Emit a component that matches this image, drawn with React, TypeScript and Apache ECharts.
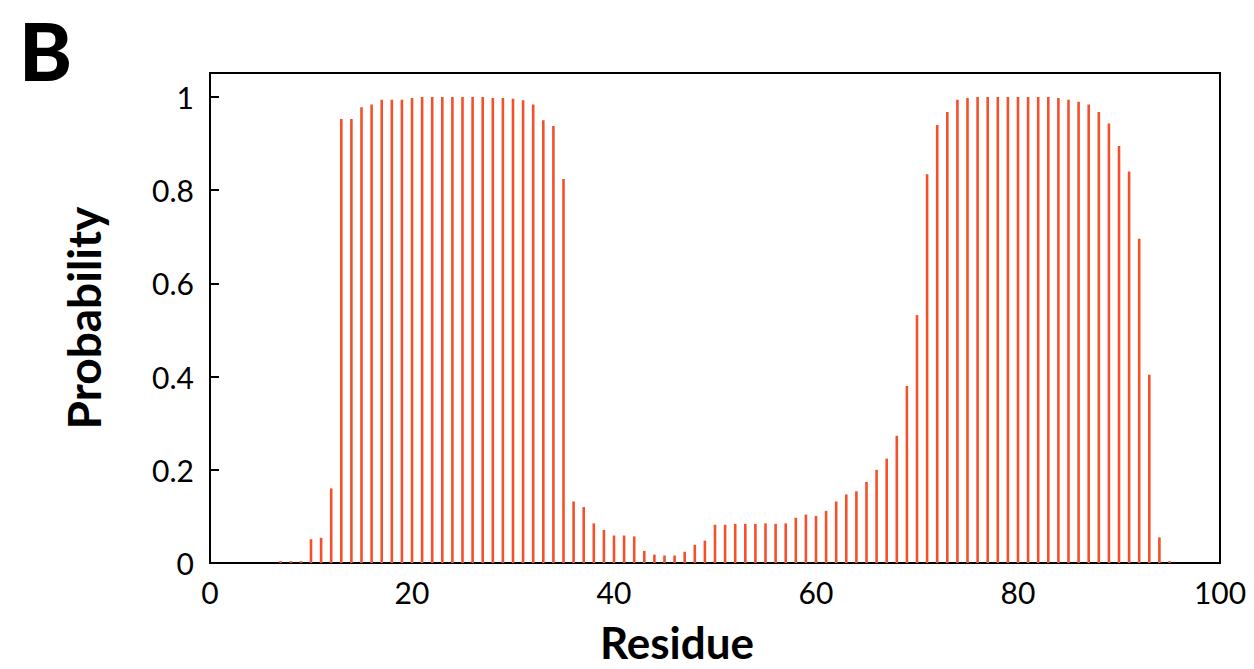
import React, { useEffect, useRef } from "react";
import * as echarts from "echarts";

const residues: number[] = [
  7, 8, 9, 10, 11, 12, 13, 14, 15, 16, 17, 18, 19, 20, 21, 22, 23, 24, 25, 26,
  27, 28, 29, 30, 31, 32, 33, 34, 35, 36, 37, 38, 39, 40, 41, 42, 43, 44, 45, 46,
  47, 48, 49, 50, 51, 52, 53, 54, 55, 56, 57, 58, 59, 60, 61, 62, 63, 64, 65, 66,
  67, 68, 69, 70, 71, 72, 73, 74, 75, 76, 77, 78, 79, 80, 81, 82, 83, 84, 85, 86,
  87, 88, 89, 90, 91, 92, 93, 94, 95,
];

const probability: number[] = [
  0.004, 0.004, 0.004, 0.051, 0.054, 0.16, 0.953, 0.953, 0.978, 0.984,
  0.994, 0.994, 0.994, 0.998, 1.0, 1.0, 1.0, 1.0, 1.0, 1.0,
  1.0, 0.998, 0.998, 0.996, 0.993, 0.984, 0.95, 0.938, 0.824, 0.132,
  0.12, 0.085, 0.071, 0.059, 0.059, 0.057, 0.026, 0.018, 0.016, 0.016,
  0.024, 0.039, 0.048, 0.082, 0.082, 0.084, 0.084, 0.084, 0.085, 0.084,
  0.085, 0.097, 0.104, 0.101, 0.112, 0.132, 0.147, 0.154, 0.174, 0.2,
  0.224, 0.273, 0.38, 0.532, 0.834, 0.94, 0.968, 0.994, 0.998, 1.0,
  1.0, 1.0, 1.0, 1.0, 1.0, 1.0, 1.0, 0.998, 0.994, 0.99,
  0.984, 0.968, 0.943, 0.895, 0.84, 0.696, 0.404, 0.055, 0.004,
];

const yTicks: number[] = [0, 0.2, 0.4, 0.6, 0.8, 1];
const xTicks: number[] = [0, 20, 40, 60, 80, 100];

const FONT = "Lato, 'Open Sans', sans-serif";

export default function App() {
  const ref = useRef<HTMLDivElement>(null);

  useEffect(() => {
    if (!ref.current) return;
    const chart = echarts.init(ref.current, null, { renderer: "svg" });
    const data = residues.map((r, i) => [r, probability[i]]);
    chart.setOption({
      animation: false,
      backgroundColor: "#ffffff",
      grid: {
        left: 210,
        right: 34,
        top: 73,
        bottom: 106,
        outerBoundsMode: "none",
        containLabel: false,
        show: true,
        borderColor: "#000000",
        borderWidth: 2,
        backgroundColor: "transparent",
      },
      graphic: [
        {
          type: "text",
          x: 19,
          y: 50,
          style: {
            text: "B",
            fontFamily: FONT,
            fontWeight: 900,
            fontSize: 80,
            fill: "#000000",
            textVerticalAlign: "middle",
            textAlign: "left",
          },
        },
      ],
      xAxis: {
        type: "value",
        min: 0,
        max: 100,
        interval: 20,
        name: "Residue",
        nameLocation: "middle",
        nameGap: 57,
        nameTextStyle: {
          fontFamily: FONT,
          fontWeight: "bold",
          fontSize: 44,
          color: "#000000",
          padding: [0, 76, 0, 0],
        },
        splitLine: { show: false },
        axisLine: { show: true, onZero: false, lineStyle: { color: "#000000", width: 2 } },
        axisTick: {
          show: true,
          inside: true,
          length: 8,
          lineStyle: { color: "#000000", width: 2 },
          customValues: xTicks,
        },
        axisLabel: {
          fontFamily: FONT,
          fontSize: 30,
          color: "#000000",
          margin: 14,
          customValues: xTicks,
        },
      },
      yAxis: {
        type: "value",
        min: 0,
        max: 1.0515,
        name: "Probability",
        nameLocation: "middle",
        nameGap: 104,
        nameTextStyle: {
          fontFamily: FONT,
          fontWeight: "bold",
          fontSize: 46,
          color: "#000000",
        },
        splitLine: { show: false },
        axisLine: { show: true, onZero: false, lineStyle: { color: "#000000", width: 2 } },
        axisTick: {
          show: true,
          inside: true,
          length: 9,
          lineStyle: { color: "#000000", width: 2 },
          customValues: yTicks,
        },
        axisLabel: {
          fontFamily: FONT,
          fontSize: 30,
          color: "#000000",
          margin: 16,
          customValues: yTicks,
        },
      },
      series: [
        {
          type: "bar",
          data,
          barWidth: 2.6,
          itemStyle: { color: "#F4502A" },
          z: 1,
        },
      ],
    });
    return () => chart.dispose();
  }, []);

  return (
    <div
      ref={ref}
      style={{ position: "fixed", left: 0, top: 0, width: 1254, height: 669 }}
    />
  );
}
